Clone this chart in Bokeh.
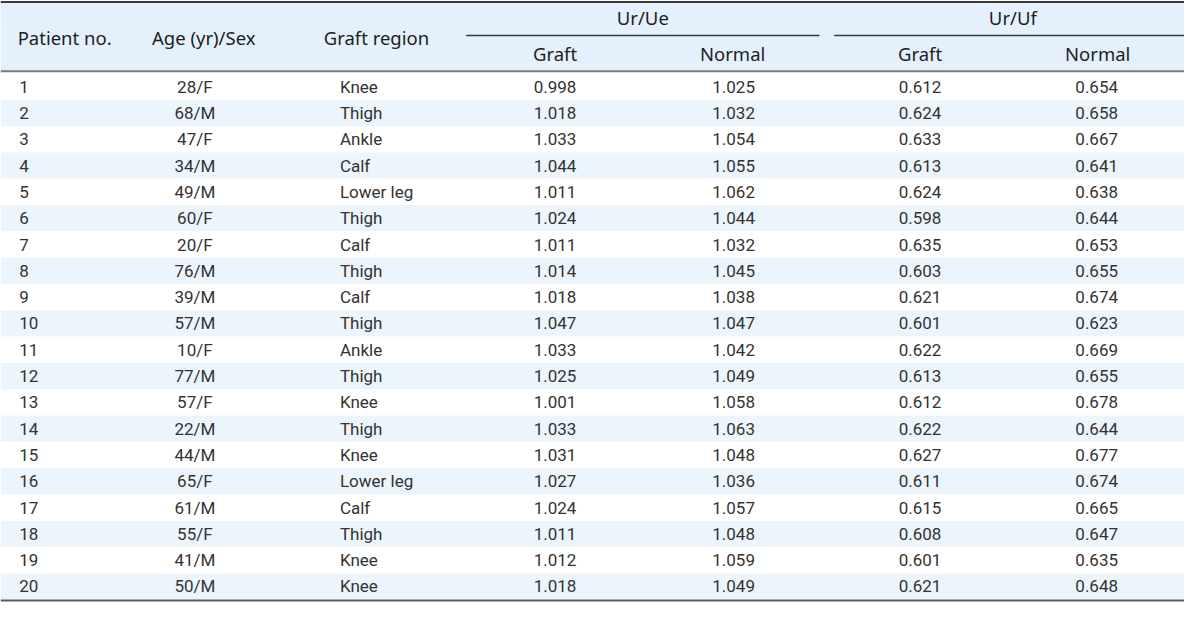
from bokeh.plotting import figure
from bokeh.models import ColumnDataSource
from bokeh.core.properties import value
from bokeh.embed import file_html
from bokeh.resources import INLINE

# ---- data ----
patient_no = list(range(1, 21))
age_sex = ["28/F", "68/M", "47/F", "34/M", "49/M", "60/F", "20/F", "76/M", "39/M", "57/M",
           "10/F", "77/M", "57/F", "22/M", "44/M", "65/F", "61/M", "55/F", "41/M", "50/M"]
graft_region = ["Knee", "Thigh", "Ankle", "Calf", "Lower leg", "Thigh", "Calf", "Thigh", "Calf", "Thigh",
                "Ankle", "Thigh", "Knee", "Thigh", "Knee", "Lower leg", "Calf", "Thigh", "Knee", "Knee"]
ue_graft = [0.998, 1.018, 1.033, 1.044, 1.011, 1.024, 1.011, 1.014, 1.018, 1.047,
            1.033, 1.025, 1.001, 1.033, 1.031, 1.027, 1.024, 1.011, 1.012, 1.018]
ue_normal = [1.025, 1.032, 1.054, 1.055, 1.062, 1.044, 1.032, 1.045, 1.038, 1.047,
             1.042, 1.049, 1.058, 1.063, 1.048, 1.036, 1.057, 1.048, 1.059, 1.049]
uf_graft = [0.612, 0.624, 0.633, 0.613, 0.624, 0.598, 0.635, 0.603, 0.621, 0.601,
            0.622, 0.613, 0.612, 0.622, 0.627, 0.611, 0.615, 0.608, 0.601, 0.621]
uf_normal = [0.654, 0.658, 0.667, 0.641, 0.638, 0.644, 0.653, 0.655, 0.674, 0.623,
             0.669, 0.655, 0.678, 0.644, 0.677, 0.674, 0.665, 0.647, 0.635, 0.648]

header_main = ["Patient no.", "Age (yr)/Sex", "Graft region"]
group_labels = ["Ur/Ue", "Ur/Uf"]
sub_labels = ["Graft", "Normal", "Graft", "Normal"]

# ---- layout (reference pixel space) ----
W, H = 1200, 619
ROW0, ROWH = 75, 27
HEAD_FONT = value("Noto Sans")
BODY_FONT = value("Roboto")
TXT = "#333333"
HEAD_SIZE = "18.5px"

p = figure(width=1184, height=603, x_range=(0, W), y_range=(H, 0),
           output_backend="svg", toolbar_location=None, min_border=0)
p.axis.visible = False
p.grid.visible = False
p.outline_line_color = None
p.background_fill_color = "white"
p.border_fill_color = "white"

n = len(patient_no)
tops = [ROW0 + ROWH * i for i in range(n)]
centers = [t + ROWH / 2 for t in tops]

# header background
p.quad(left=[0], right=[W], top=[2], bottom=[72], fill_color="#e4f0fb", line_color=None)
# stripes (even rows)
st = [t for i, t in enumerate(tops) if i % 2 == 1]
p.quad(left=[0] * len(st), right=[W] * len(st), top=st, bottom=[t + ROWH for t in st],
       fill_color="#edf5fc", line_color=None)

# rules
p.segment(x0=[0], x1=[W], y0=[1.5], y1=[1.5], line_color="#3a3a3a", line_width=2)
p.segment(x0=[0], x1=[W], y0=[72.5], y1=[72.5], line_color="#7a7a7a", line_width=2)
p.segment(x0=[0], x1=[W], y0=[616], y1=[616], line_color="#5a5a5a", line_width=2)
p.segment(x0=[472, 845], x1=[830, W], y0=[36, 36], y1=[36, 36], line_color="#3a3a3a", line_width=1.5)

# header text
hdr = dict(text_font=HEAD_FONT, text_font_size=HEAD_SIZE, text_align="center",
           text_baseline="middle", text_color="#1e1e1e")
p.text(x=[65, 206, 381], y=[38, 38, 38], text=header_main, **hdr)
p.text(x=[651, 1026], y=[17, 17], text=group_labels, **hdr)
p.text(x=[562, 742, 932, 1112], y=[54] * 4, text=sub_labels, **hdr)

# body
src = ColumnDataSource(dict(
    y=centers,
    pno=[str(v) for v in patient_no],
    age=age_sex,
    reg=graft_region,
    ug=[f"{v:.3f}" for v in ue_graft],
    un=[f"{v:.3f}" for v in ue_normal],
    fg=[f"{v:.3f}" for v in uf_graft],
    fn=[f"{v:.3f}" for v in uf_normal],
))
common = dict(y="y", source=src, text_font=BODY_FONT, text_font_size="17px",
              text_baseline="middle", text_color=TXT)
p.text(x=19, text="pno", text_align="left", **common)
p.text(x=197, text="age", text_align="center", **common)
p.text(x=344, text="reg", text_align="left", **common)
p.text(x=562, text="ug", text_align="center", **common)
p.text(x=743, text="un", text_align="center", **common)
p.text(x=932, text="fg", text_align="center", **common)
p.text(x=1111, text="fn", text_align="center", **common)

open("out.html", "w").write(file_html(p, INLINE))
